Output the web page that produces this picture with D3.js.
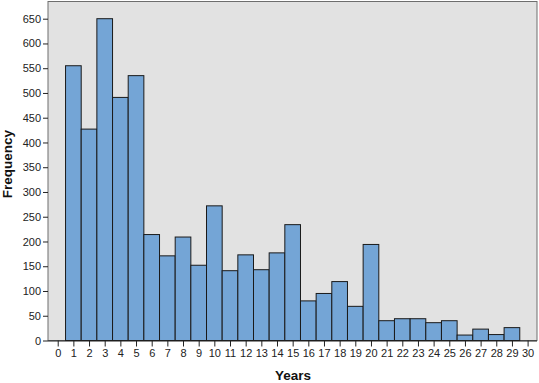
<!DOCTYPE html>
<html><head><meta charset="utf-8">
<script src="https://cdn.jsdelivr.net/npm/d3@7"></script>
<style>body{margin:0;background:#fff}svg{display:block}</style>
</head><body><svg id="c" width="539" height="383"></svg>
<script>
const years = d3.range(0, 31);
const frequency = [0,555,427,650,491,535,214,171,209,152,272,141,173,143,177,234,80,95,119,69,194,40,44,44,36,40,11,23,12,26,0];
const yTicks = d3.range(0, 651, 50);

const svg = d3.select("#c");
const L = 48, R = 537, T = 1.5, B = 340.5;
const x = d3.scaleLinear().domain([-0.62, 30.6]).range([L, R]);
const y = d3.scaleLinear().domain([0, 650]).range([B, 18.7]);

svg.append("rect").attr("x", L).attr("y", T).attr("width", R - L).attr("height", B - T)
  .attr("fill", "#e2e2e2").attr("stroke", "#6e6e6e").attr("stroke-width", 1);

svg.append("g").selectAll("rect").data(years.filter((d,i)=>frequency[i]>0)).join("rect")
  .attr("x", d => x(d - 0.5))
  .attr("width", d => x(d + 0.5) - x(d - 0.5))
  .attr("y", d => y(frequency[d]))
  .attr("height", d => B - y(frequency[d]))
  .attr("fill", "#74a5d6").attr("stroke", "#1a1a1a").attr("stroke-width", 1);

const font = "Arial, 'Liberation Sans', sans-serif";
const yAxis = svg.append("g").attr("transform", `translate(${L},0)`)
  .call(d3.axisLeft(y).tickValues(yTicks).tickSize(5).tickPadding(2));
yAxis.select(".domain").remove();
yAxis.selectAll("text").attr("font-family", font).attr("font-size", 11).attr("fill", "#222");
yAxis.selectAll("line").attr("stroke", "#222");

const xAxis = svg.append("g").attr("transform", `translate(0,${B})`)
  .call(d3.axisBottom(x).tickValues(years).tickFormat(d3.format("d")).tickSize(6).tickPadding(3));
xAxis.select(".domain").attr("stroke", "#222").attr("d", `M${L},0.5H${R}`);
xAxis.selectAll("text").attr("font-family", font).attr("font-size", 11).attr("fill", "#222");
xAxis.selectAll("line").attr("stroke", "#222");

svg.append("text").attr("x", 293).attr("y", 380).attr("text-anchor", "middle")
  .attr("font-family", font).attr("font-size", 13.5).attr("font-weight", "bold").attr("fill", "#111").text("Years");
svg.append("text").attr("transform", "translate(12,164) rotate(-90)").attr("text-anchor", "middle")
  .attr("font-family", font).attr("font-size", 13.5).attr("font-weight", "bold").attr("fill", "#111").text("Frequency");
</script></body></html>
